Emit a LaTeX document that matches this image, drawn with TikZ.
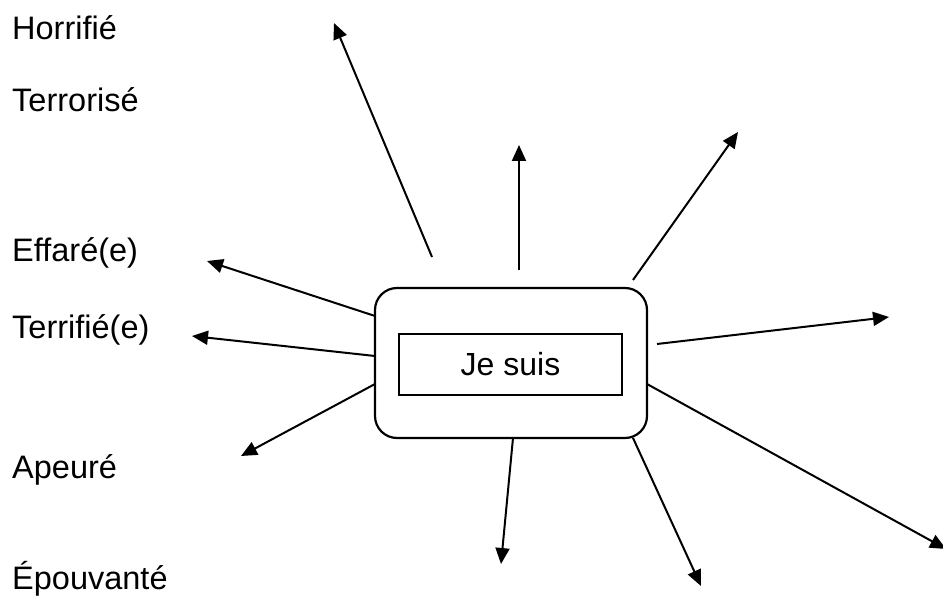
\documentclass[tikz,border=0pt]{standalone}
\usepackage{fontspec}
\setmainfont{Liberation Sans}
\usetikzlibrary{arrows.meta}
\begin{document}
\begin{tikzpicture}[x=1pt,y=-1pt,
  lbl/.style={anchor=base west,inner sep=0pt,font=\fontsize{32.5}{38}\selectfont},
  ray/.style={line width=2pt,-{Triangle[length=16pt,width=14pt]}},
  outerbox/.style={draw,line width=2.2pt,rounded corners=22pt,minimum width=272pt,minimum height=150pt,inner sep=0pt},
  innerbox/.style={draw,line width=2pt,minimum width=223pt,minimum height=61pt,inner sep=0pt,font=\fontsize{32}{38}\selectfont}]
\useasboundingbox (0,0) rectangle (943,596);
% labels
\node[lbl] (l1) at (12,40) {Horrifié};
\node[lbl] (l2) at (12,112) {Terrorisé};
\node[lbl] (l3) at (12,262) {Effaré(e)};
\node[lbl] (l4) at (12,338) {Terrifié(e)};
\node[lbl] (l5) at (12,478) {Apeuré};
\node[lbl] (l6) at (12,589) {Épouvanté};
% central boxes
\node[outerbox] (box) at (511,363) {};
\node[innerbox] (inner) at (510.5,364.5) {Je suis};
% ray start points
\coordinate (s1) at (432,257);
\coordinate (s2) at (519,270);
\coordinate (s3) at (633,280);
\coordinate (s4) at (657,344);
\coordinate (s5) at (647,384);
\coordinate (s6) at (633,438);
\coordinate (s7) at (513,438);
\coordinate (s8) at (375,384);
\coordinate (s9) at (375,356);
\coordinate (s10) at (375,316);
% ray tips
\coordinate (t1) at (334,23);
\coordinate (t2) at (519,145);
\coordinate (t3) at (738,132);
\coordinate (t4) at (889,317);
\coordinate (t5) at (946,549);
\coordinate (t6) at (701,586);
\coordinate (t7) at (501,564);
\coordinate (t8) at (241,456);
\coordinate (t9) at (192,336);
\coordinate (t10) at (207,261);
\foreach \i in {1,...,10} { \draw[ray] (s\i) -- (t\i); }
\end{tikzpicture}
\end{document}
